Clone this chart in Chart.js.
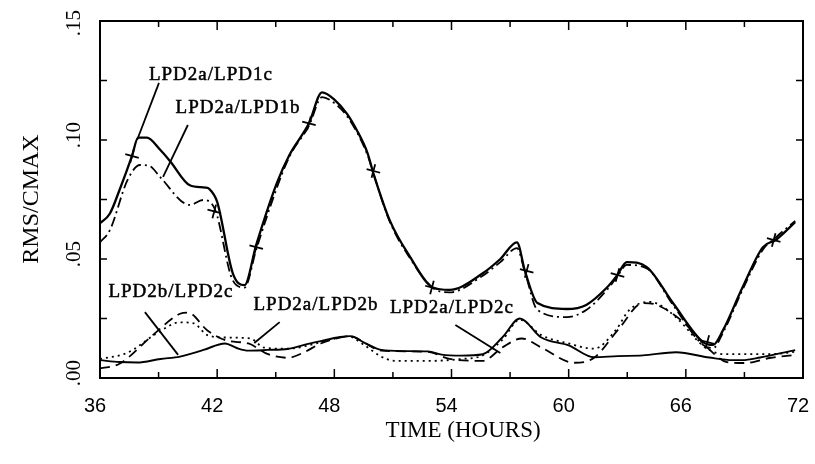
<!DOCTYPE html>
<html>
<head>
<meta charset="utf-8">
<script src="https://cdn.jsdelivr.net/npm/chart.js@4.4.1/dist/chart.umd.min.js"></script>
<style>
  html, body { margin: 0; padding: 0; background: #fff; }
  #wrap { width: 815px; height: 464px; }
</style>
</head>
<body>
<div id="wrap"><canvas id="myChart" width="815" height="464"></canvas></div>
<script>
// time axis (hours) and RMS/CMAX values
const hrsLPD1c = [36, 36.5, 37, 37.64, 37.95, 38.4, 39.07, 39.6, 40.6, 41.4, 41.6, 42.0, 42.8, 43.4, 44.0, 45.06, 45.7, 46.7, 47.37, 48.0, 48.65, 49.16, 49.7, 50.0, 50.85, 51.87, 53.05, 53.9, 55.6, 56.5, 57.35, 57.76, 58.4, 59.9, 60.9, 61.96, 62.47, 62.98, 64.0, 65.34, 66.88, 67.4, 67.9, 68.9, 69.95, 70.6, 71.6];
const valLPD1c = [0.065, 0.069, 0.079, 0.0933, 0.101, 0.101, 0.096, 0.091, 0.081, 0.080, 0.0794, 0.074, 0.044, 0.039, 0.056, 0.082, 0.0937, 0.107, 0.120, 0.117, 0.111, 0.104, 0.0945, 0.086, 0.066, 0.051, 0.038, 0.037, 0.044, 0.050, 0.057, 0.045, 0.0315, 0.029, 0.0307, 0.038, 0.043, 0.0487, 0.0466, 0.0315, 0.0151, 0.0139, 0.020, 0.038, 0.055, 0.058, 0.0655];

const hrsLPD1b = [36, 36.5, 37.4, 38.05, 38.56, 39.07, 40.6, 41.27, 41.9, 42.8, 43.4, 44.0, 45.06, 45.7, 46.7, 47.37, 48.0, 48.65, 49.7, 50.0, 50.85, 51.87, 53.05, 53.9, 55.6, 56.5, 57.35, 57.76, 58.4, 59.9, 60.9, 61.96, 62.47, 62.98, 64.0, 65.34, 66.88, 67.4, 67.9, 68.9, 69.95, 70.6, 71.6];
const valLPD1b = [0.057, 0.062, 0.083, 0.0895, 0.089, 0.0845, 0.0727, 0.0748, 0.0706, 0.041, 0.038, 0.054, 0.080, 0.093, 0.106, 0.118, 0.1155, 0.110, 0.0937, 0.086, 0.0655, 0.0504, 0.0378, 0.036, 0.043, 0.0487, 0.0546, 0.0445, 0.0286, 0.0256, 0.0286, 0.037, 0.0424, 0.0475, 0.046, 0.0307, 0.0139, 0.0126, 0.019, 0.037, 0.054, 0.059, 0.066];

const hrsLPD2c = [36, 37, 37.9, 39.1, 40.1, 41.3, 42.4, 43.0, 43.6, 44.6, 45.6, 46.5, 47.3, 48.3, 48.8, 49.5, 50.4, 51.5, 52.8, 53.5, 54.5, 55.6, 56.6, 57.5, 58.6, 60.0, 61.3, 62.5, 63.8, 65.5, 67.2, 68.4, 68.9, 69.8, 71.6];
const valLPD2c = [0.0075, 0.0067, 0.0065, 0.008, 0.009, 0.0118, 0.0145, 0.0126, 0.0115, 0.0118, 0.0122, 0.014, 0.0155, 0.0172, 0.0176, 0.015, 0.0118, 0.0113, 0.0112, 0.0098, 0.0094, 0.010, 0.017, 0.025, 0.017, 0.0137, 0.0087, 0.0092, 0.0095, 0.0108, 0.0086, 0.0075, 0.0075, 0.0086, 0.0117];

const hrsB2c = [36, 37.4, 38.9, 40.1, 40.8, 41.5, 42.5, 43.7, 44.4, 45.6, 47.3, 48.7, 49.5, 50.4, 51.1, 52.8, 54.5, 55.6, 56.6, 57.5, 58.6, 60.0, 61.3, 62.4, 63.1, 64.1, 64.6, 65.5, 67.0, 68.0, 69.0, 70.3, 71.6];
const valB2c = [0.008, 0.0106, 0.0187, 0.0234, 0.023, 0.018, 0.017, 0.0166, 0.0128, 0.0123, 0.015, 0.0175, 0.014, 0.009, 0.0072, 0.0072, 0.008, 0.0095, 0.016, 0.0245, 0.018, 0.0145, 0.0123, 0.020, 0.0285, 0.032, 0.031, 0.0255, 0.0128, 0.010, 0.010, 0.010, 0.011];

const hrsLPD2b = [36, 37, 38.7, 40.1, 40.5, 41.5, 42.5, 43.6, 44.6, 45.6, 46.5, 47.3, 48.9, 49.5, 50.4, 52.8, 53.9, 55.6, 56.6, 57.6, 58.6, 60.3, 61.3, 62.6, 63.8, 64.4, 65.8, 67.2, 68.1, 69.0, 70.3, 71.6];
const valLPD2b = [0.004, 0.006, 0.018, 0.027, 0.0275, 0.020, 0.0157, 0.0145, 0.010, 0.0085, 0.011, 0.0145, 0.0175, 0.015, 0.0115, 0.011, 0.008, 0.0072, 0.0128, 0.0166, 0.0128, 0.0064, 0.0085, 0.021, 0.0315, 0.031, 0.024, 0.012, 0.0067, 0.0063, 0.0084, 0.0097];

// cross marks sitting on the upper curves
const hrsMarks = [37.64, 41.85, 44.0, 46.7, 50.0, 53.0, 57.85, 62.5, 67.1, 70.5];
const valMarks = [0.0933, 0.0700, 0.055, 0.107, 0.087, 0.038, 0.045, 0.0433, 0.0151, 0.058];

const xTicks = [36, 42, 48, 54, 60, 66, 72];
const yTicks = [0, 0.05, 0.10, 0.15];

// curve labels: text centre and leader line, in data units
const labelText = ['LPD2a/LPD1c', 'LPD2a/LPD1b', 'LPD2b/LPD2c', 'LPD2a/LPD2b', 'LPD2a/LPD2c'];
const labelHr = [41.68, 43.07, 39.63, 47.06, 54.02];
const labelVal = [0.1273, 0.1134, 0.0361, 0.0307, 0.0294];
const leaderHr = [[39.02, 37.9], [40.5, 39.23], [38.3, 40.0], [45.2, 43.9], [54.2, 56.5]];
const leaderVal = [[0.124, 0.100], [0.1063, 0.0845], [0.0277, 0.0097], [0.0235, 0.0147], [0.0223, 0.0105]];

function pts(xs, ys) { return xs.map((x, i) => ({ x: x, y: ys[i] })) }

const serif = "'Liberation Serif', 'Times New Roman', serif";
const sans = "'Liberation Sans', Arial, sans-serif";

const framePlugin = {
  id: 'frame',
  afterDraw(chart) {
    const ctx = chart.ctx
    const a = chart.chartArea
    const xs = chart.scales.x, ys = chart.scales.y
    ctx.save()
    ctx.strokeStyle = '#000'
    ctx.lineWidth = 2
    ctx.strokeRect(a.left, a.top, a.right - a.left, a.bottom - a.top)
    ctx.lineWidth = 1.5
    // inward ticks
    for (let h = 36; h <= 72; h += 3) {
      const px = xs.getPixelForValue(h)
      const len = (h % 6 === 0) ? 9 : 6
      ctx.beginPath()
      ctx.moveTo(px, a.bottom); ctx.lineTo(px, a.bottom - len)
      ctx.moveTo(px, a.top); ctx.lineTo(px, a.top + len)
      ctx.stroke()
    }
    for (let v = 0; v <= 0.1501; v += 0.025) {
      const py = ys.getPixelForValue(v)
      const len = 7
      ctx.beginPath()
      ctx.moveTo(a.left, py); ctx.lineTo(a.left + len, py)
      ctx.moveTo(a.right, py); ctx.lineTo(a.right - len, py)
      ctx.stroke()
    }
    // x tick labels
    ctx.fillStyle = '#000'
    ctx.font = '20px ' + sans
    ctx.textAlign = 'center'
    ctx.textBaseline = 'middle'
    xTicks.forEach(h => {
      ctx.fillText(String(h), xs.getPixelForValue(h) - 5, 406)
    })
    // y tick labels, rotated
    ctx.font = '21px ' + serif
    yTicks.forEach(v => {
      const py = ys.getPixelForValue(v)
      ctx.save()
      ctx.translate(74, Math.max(py - 5, 23))
      ctx.rotate(-Math.PI / 2)
      ctx.fillText(v.toFixed(2).replace(/^0/, ''), 0, 0)
      ctx.restore()
    })
    // axis titles
    ctx.font = '23px ' + serif
    ctx.fillText('TIME (HOURS)', 463, 431)
    ctx.save()
    ctx.translate(32, 199)
    ctx.rotate(-Math.PI / 2)
    ctx.font = '24px ' + serif
    ctx.fillText('RMS/CMAX', 0, 0)
    ctx.restore()
    // curve labels with leader lines
    ctx.font = '19px ' + serif
    ctx.letterSpacing = '1px'
    ctx.lineWidth = 1.8
    labelText.forEach((t, i) => {
      const tx = xs.getPixelForValue(labelHr[i]), ty = ys.getPixelForValue(labelVal[i])
      ctx.lineWidth = 0.5
      ctx.strokeText(t, tx, ty)
      ctx.fillText(t, tx, ty)
      ctx.lineWidth = 1.8
      ctx.beginPath()
      ctx.moveTo(xs.getPixelForValue(leaderHr[i][0]), ys.getPixelForValue(leaderVal[i][0]))
      ctx.lineTo(xs.getPixelForValue(leaderHr[i][1]), ys.getPixelForValue(leaderVal[i][1]))
      ctx.stroke()
    })
    ctx.restore()
  }
}

const base = { pointRadius: 0, fill: false, cubicInterpolationMode: 'monotone', borderColor: '#000' }

const config = {
  type: 'line',
  data: {
    datasets: [
      Object.assign({ label: 'LPD2a/LPD1c', data: pts(hrsLPD1c, valLPD1c), borderWidth: 2.3 }, base),
      Object.assign({ label: 'LPD2a/LPD1b', data: pts(hrsLPD1b, valLPD1b), borderWidth: 1.8, borderDash: [10, 4, 2, 4] }, base),
      Object.assign({ label: 'LPD2a/LPD2c', data: pts(hrsLPD2c, valLPD2c), borderWidth: 1.9 }, base),
      Object.assign({ label: 'LPD2b/LPD2c', data: pts(hrsB2c, valB2c), borderWidth: 1.8, borderDash: [2, 4] }, base),
      Object.assign({ label: 'LPD2a/LPD2b', data: pts(hrsLPD2b, valLPD2b), borderWidth: 1.8, borderDash: [10, 6] }, base),
      {
        label: 'marks', data: pts(hrsMarks, valMarks), showLine: false,
        pointStyle: 'cross', pointRadius: 7, pointRotation: 15,
        pointBorderColor: '#000', pointBorderWidth: 1.8
      }
    ]
  },
  options: {
    responsive: false,
    animation: false,
    layout: { padding: { left: 0, top: 21, right: 12, bottom: 0 } },
    plugins: { legend: { display: false }, tooltip: { enabled: false } },
    scales: {
      x: {
        type: 'linear', min: 36, max: 72,
        ticks: { display: false, stepSize: 6 },
        grid: { display: false }, border: { display: false },
        afterFit(s) { s.height = 86 }
      },
      y: {
        min: 0, max: 0.15,
        ticks: { display: false, stepSize: 0.05 },
        grid: { display: false }, border: { display: false },
        afterFit(s) { s.width = 100 }
      }
    }
  },
  plugins: [framePlugin]
}

const myChart = new Chart(document.getElementById('myChart').getContext('2d'), config)
</script>
</body>
</html>
